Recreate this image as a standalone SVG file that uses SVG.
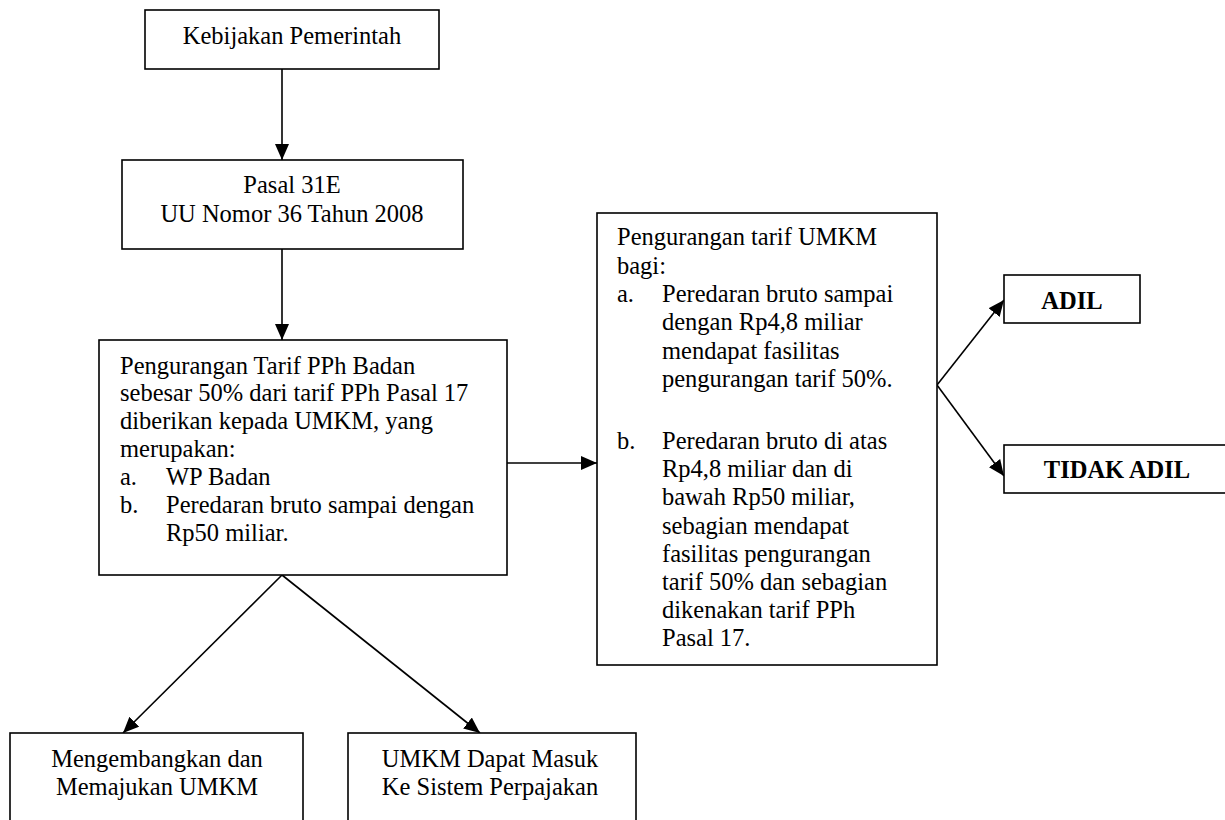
<svg xmlns="http://www.w3.org/2000/svg" width="1225" height="820" viewBox="0 0 1225 820">
<style>
.box{fill:#fff;stroke:#000;stroke-width:1.6}
.t{font-family:"Liberation Serif","Times New Roman",serif;font-size:24.5px;fill:#000}
.c{text-anchor:middle}
.b{font-weight:bold}
.ln{stroke:#000;stroke-width:1.6;fill:none}
</style>
<defs>
<marker id="ah" viewBox="0 0 16 14" refX="16" refY="7" markerWidth="16" markerHeight="14" markerUnits="userSpaceOnUse" orient="auto">
<path d="M0,0 L16,7 L0,14 Z" fill="#000"/>
</marker>
</defs>
<rect width="1225" height="820" fill="#fff"/>
<g id="connectors">
<line class="ln" x1="282" y1="69" x2="282" y2="160" marker-end="url(#ah)"/>
<line class="ln" x1="282" y1="249" x2="282" y2="340" marker-end="url(#ah)"/>
<line class="ln" x1="507" y1="463" x2="597" y2="463" marker-end="url(#ah)"/>
<line class="ln" x1="937" y1="385" x2="1004" y2="300" marker-end="url(#ah)"/>
<line class="ln" x1="937" y1="385" x2="1004" y2="476" marker-end="url(#ah)"/>
<line class="ln" x1="282" y1="575" x2="123" y2="733" marker-end="url(#ah)"/>
<line class="ln" x1="282" y1="575" x2="480" y2="733" marker-end="url(#ah)"/>
</g>
<g id="n1">
<rect class="box" x="145" y="10" width="294" height="59"/>
<text class="t c" x="292" y="44">Kebijakan Pemerintah</text>
</g>
<g id="n2">
<rect class="box" x="122" y="160" width="341" height="89"/>
<text class="t c" x="292" y="193">Pasal 31E</text>
<text class="t c" x="292" y="222">UU Nomor 36 Tahun 2008</text>
</g>
<g id="n3">
<rect class="box" x="99" y="340" width="408" height="235"/>
<text class="t" x="120" y="373.5">Pengurangan Tarif PPh Badan</text>
<text class="t" x="120" y="401.4">sebesar 50% dari tarif PPh Pasal 17</text>
<text class="t" x="120" y="429.3">diberikan kepada UMKM, yang</text>
<text class="t" x="120" y="457.2">merupakan:</text>
<text class="t" x="120" y="485.1">a.</text>
<text class="t" x="166" y="485.1">WP Badan</text>
<text class="t" x="120" y="513">b.</text>
<text class="t" x="166" y="513">Peredaran bruto sampai dengan</text>
<text class="t" x="166" y="541">Rp50 miliar.</text>
</g>
<g id="n4">
<rect class="box" x="597" y="213" width="340" height="452"/>
<text class="t" x="617" y="245">Pengurangan tarif UMKM</text>
<text class="t" x="617" y="273.5">bagi:</text>
<text class="t" x="617" y="302">a.</text>
<text class="t" x="662" y="302">Peredaran bruto sampai</text>
<text class="t" x="662" y="330">dengan Rp4,8 miliar</text>
<text class="t" x="662" y="358.5">mendapat fasilitas</text>
<text class="t" x="662" y="387">pengurangan tarif 50%.</text>
<text class="t" x="617" y="449">b.</text>
<text class="t" x="662" y="449">Peredaran bruto di atas</text>
<text class="t" x="662" y="477">Rp4,8 miliar dan di</text>
<text class="t" x="662" y="505">bawah Rp50 miliar,</text>
<text class="t" x="662" y="533.5">sebagian mendapat</text>
<text class="t" x="662" y="561.5">fasilitas pengurangan</text>
<text class="t" x="662" y="590">tarif 50% dan sebagian</text>
<text class="t" x="662" y="618">dikenakan tarif PPh</text>
<text class="t" x="662" y="646">Pasal 17.</text>
</g>
<g id="n5">
<rect class="box" x="1004" y="275" width="136" height="48"/>
<text class="t c b" x="1072" y="309">ADIL</text>
</g>
<g id="n6">
<rect class="box" x="1004" y="445" width="228" height="48"/>
<text class="t c b" x="1117" y="478">TIDAK ADIL</text>
</g>
<g id="n7">
<rect class="box" x="10" y="733" width="293" height="100"/>
<text class="t c" x="157" y="767">Mengembangkan dan</text>
<text class="t c" x="157" y="795">Memajukan UMKM</text>
</g>
<g id="n8">
<rect class="box" x="348" y="733" width="288" height="100"/>
<text class="t c" x="490" y="767">UMKM Dapat Masuk</text>
<text class="t c" x="490" y="795">Ke Sistem Perpajakan</text>
</g>
</svg>
